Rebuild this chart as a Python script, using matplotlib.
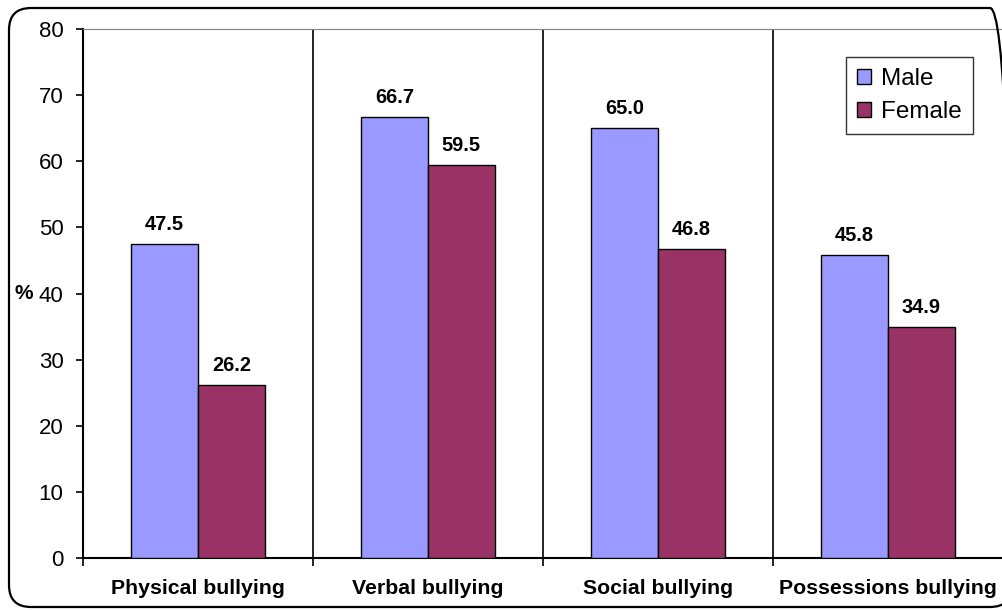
import numpy as np
import matplotlib.pyplot as plt
from matplotlib.patches import FancyBboxPatch

categories = ["Physical bullying", "Verbal bullying", "Social bullying", "Possessions bullying"]
male = [47.5, 66.7, 65.0, 45.8]
female = [26.2, 59.5, 46.8, 34.9]
yticks = [0, 10, 20, 30, 40, 50, 60, 70, 80]

male_color = "#9999FF"
female_color = "#993366"

W, H = 1003, 610
plt.rcParams['font.family'] = ['Liberation Sans', 'DejaVu Sans']
fig = plt.figure(figsize=(W / 100, H / 100), dpi=100)

# rounded frame round the whole chart, in inches; its right side runs off the canvas
frame = FancyBboxPatch((0.09, 0.03), 10.03, 5.99,
                       boxstyle="round,pad=0,rounding_size=0.22",
                       transform=fig.dpi_scale_trans, fill=False, clip_on=False,
                       edgecolor="black", linewidth=1.6)
fig.patches.append(frame)

ax = fig.add_axes([83 / W, (H - 558) / H, 920 / W, (558 - 29) / H])

x = np.arange(len(categories))
bw = 0.29
b1 = ax.bar(x - bw / 2, male, bw, color=male_color, edgecolor="black", linewidth=1.0, label="Male", zorder=3)
b2 = ax.bar(x + bw / 2, female, bw, color=female_color, edgecolor="black", linewidth=1.0, label="Female", zorder=3)

for bars, vals in [(b1, male), (b2, female)]:
    for bar, v in zip(bars, vals):
        ax.text(bar.get_x() + bar.get_width() / 2, v + 2.1, "%.1f" % v,
                ha="center", va="baseline", fontsize=14.4, fontweight="bold")

ax.set_xlim(-0.5, len(categories) - 0.5)
ax.set_ylim(0, 80)
ax.set_yticks(yticks)
ax.tick_params(axis="y", labelsize=16, length=5, width=1.2, pad=9)

# category separators and ticks
for b in np.arange(0.5, len(categories) - 0.5, 1):
    ax.axvline(b, color="black", linewidth=1.2, zorder=1)
ax.set_xticks(np.arange(-0.5, len(categories), 1), minor=False)
ax.set_xticklabels([])
ax.tick_params(axis="x", length=6, width=1.2, direction="out")
ax.set_xticks(x, minor=True)
ax.set_xticklabels(categories, minor=True, fontsize=15.3, fontweight="bold")
ax.tick_params(axis="x", which="minor", length=0, pad=15)

ax.spines["left"].set_linewidth(1.5)
ax.spines["bottom"].set_linewidth(1.5)
ax.spines["top"].set_color("#808080")
ax.spines["right"].set_color("#808080")

ax.text(-0.054, 40, "%", transform=ax.get_yaxis_transform(), ha="right", va="center",
        fontsize=15, fontweight="bold")

leg = ax.legend(loc="upper right", bbox_to_anchor=(0.967, 0.947), borderaxespad=0,
                fontsize=17.5, frameon=True, fancybox=False, edgecolor="black",
                handlelength=0.58, handleheight=0.58, handletextpad=0.4,
                borderpad=0.45, labelspacing=0.45)
leg.get_frame().set_linewidth(1.0)
for h in leg.legend_handles:
    h.set_linewidth(1.0)

fig.savefig("out.png", dpi=100)
